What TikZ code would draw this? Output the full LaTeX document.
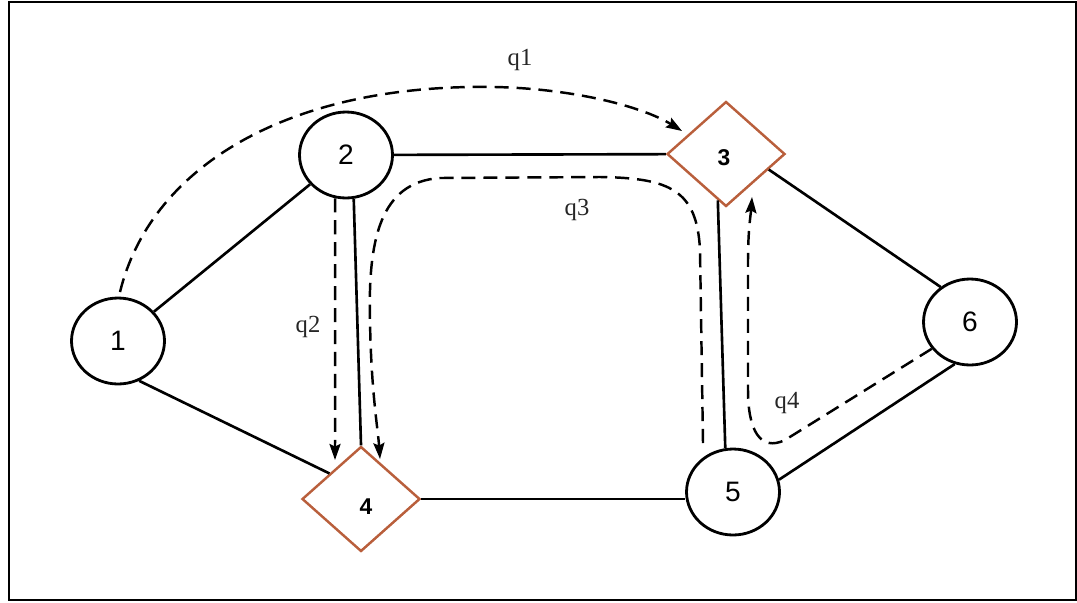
\documentclass[tikz,border=0pt]{standalone}
\usepackage{fontspec}
\setmainfont{Liberation Serif}
\newfontfamily\arialfont{Liberation Sans}
\usetikzlibrary{shapes.geometric,arrows.meta}
\definecolor{dbrown}{RGB}{185,95,60}
\tikzset{
  circnode/.style={ellipse, draw=black, line width=1.6pt, minimum width=1.86cm, minimum height=1.72cm, inner sep=0pt, font=\arialfont\fontsize{16}{18}\selectfont},
  diamnode/.style={diamond, draw=dbrown, line width=1.4pt, minimum width=2.36cm, minimum height=2.1cm, inner sep=0pt, aspect=1.12, font=\arialfont\bfseries\fontsize{13}{15}\selectfont},
  edge/.style={line width=1.5pt, draw=black},
  flow/.style={line width=1.4pt, dash pattern=on 8pt off 4.5pt, -{Stealth[length=3.2mm,width=2.2mm,inset=0.5mm]}},
  qlabel/.style={font=\fontsize{14}{16}\selectfont, text=black!85}
}
\begin{document}
\begin{tikzpicture}[x=0.02cm,y=-0.02cm]
\useasboundingbox (0,0) rectangle (1077,602);
\draw[line width=1.5pt] (9,2) rectangle (1076,600);

\node[circnode] (n1) at (118,341) {1};
\node[circnode] (n2) at (346,155) {2};
\node[diamnode] (n3) at (726,154) {};
\node[font=\arialfont\bfseries\fontsize{13}{15}\selectfont] (t3) at (724,158) {3};
\node[diamnode] (n4) at (361,499) {};
\node[font=\arialfont\bfseries\fontsize{13}{15}\selectfont] (t4) at (366,507) {4};
\node[circnode] (n5) at (733,492) {5};
\node[circnode] (n6) at (970,322) {6};

\draw[edge] (n1) -- (n2);
\draw[edge] (n1.-62) -- (n4.141);
\draw[edge] (n2) -- (n3);
\draw[edge] (n2.-80) -- (n4.north);
\draw[edge] (n3.-100) -- (n5.100);
\draw[edge] (n3.-20) -- (n6.130);
\draw[edge] (n4.east) -- (n4.east -| n5.west);
\draw[edge] (n5.15) -- (n6.-110);

\coordinate (q1s) at (120,292);
\coordinate (q1e) at (682,131);
\coordinate (q2e) at (335,460);
\coordinate (q3s) at (703,443);
\coordinate (q3e) at (380,459);
\coordinate (q4e) at (752,197);

\draw[flow] (q1s) .. controls (150,170) and (280,90) .. (470,87) .. controls (560,85) and (640,105) .. (q1e);
\draw[flow] (n2.-104) -- (q2e);
\draw[flow] (q3s) -- (700,250) .. controls (697,190) and (670,178) .. (600,177) -- (440,178) .. controls (380,182) and (368,240) .. (370,320) .. controls (371,390) and (378,430) .. (q3e);
\draw[flow] (n6.215) -- (785,440) .. controls (760,452) and (748,430) .. (748,390) -- (748,260) .. controls (748,230) and (751,212) .. (q4e);

\node[qlabel] (l1) at (520,60) {q1};
\node[qlabel] (l2) at (308,327) {q2};
\node[qlabel] (l3) at (577,210) {q3};
\node[qlabel] (l4) at (787,403) {q4};
\end{tikzpicture}
\end{document}
